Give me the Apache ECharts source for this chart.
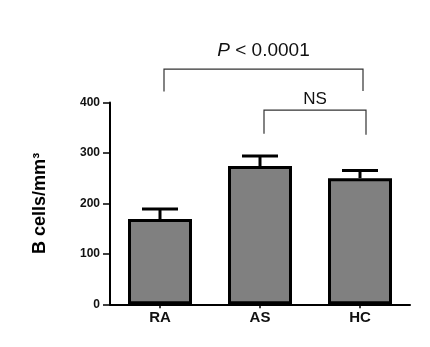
<!DOCTYPE html>
<html>
<head>
<meta charset="utf-8">
<script src="https://cdn.jsdelivr.net/npm/echarts@6/dist/echarts.min.js"></script>
<style>
  html, body { margin: 0; padding: 0; background: #fff; }
  #box { width: 430px; height: 347px; }
</style>
</head>
<body>
<div id="box"></div>
<script>
var categories = ['RA', 'AS', 'HC'];
var means = [169, 274, 250];
var errTops = [189, 294, 265];
var yTicks = [0, 100, 200, 300, 400];
// significance brackets: [fromIndex, toIndex, topValue, leftFoot, rightFoot, label]
var brackets = [
    [0, 2, 466, 422, 423, 'P'],
    [1, 2, 385, 338, 336, 'NS']
];

window.onload = function () {
    var myChart = echarts.init(document.getElementById('box'));
    var font = '"Liberation Sans", Arial, sans-serif';

    var option = {
        animation: false,
        grid: { left: 110, right: 20, top: 102.5, bottom: 42.7 },
        xAxis: {
            type: 'category',
            data: categories,
            axisLine: { lineStyle: { color: '#000', width: 2 } },
            axisTick: { show: true, alignWithLabel: true, length: 4, lineStyle: { color: '#000', width: 1.5 } },
            axisLabel: { color: '#111', fontWeight: 'bold', fontSize: 15, fontFamily: font, margin: 6 }
        },
        yAxis: {
            type: 'value',
            min: yTicks[0],
            max: yTicks[yTicks.length - 1],
            interval: 100,
            splitLine: { show: false },
            axisLine: { show: true, lineStyle: { color: '#000', width: 2 } },
            axisTick: { show: true, length: 7, lineStyle: { color: '#000', width: 1.5 } },
            axisLabel: { color: '#111', fontWeight: 'bold', fontSize: 12, fontFamily: font, margin: 10 },
            name: 'B cells/mm\u00b3',
            nameLocation: 'middle',
            nameGap: 61,
            nameTextStyle: { color: '#000', fontWeight: 'bold', fontSize: 18, fontFamily: font }
        },
        series: [{
            type: 'bar',
            data: means,
            barWidth: 64,
            itemStyle: { color: '#808080', borderColor: '#000', borderWidth: 3 },
            z: 2
        }, {
            // upward error bars
            type: 'custom',
            z: 3,
            data: errTops.map(function (t, i) { return [i, means[i], t]; }),
            renderItem: function (params, api) {
                var base = api.coord([api.value(0), api.value(1)]);
                var top = api.coord([api.value(0), api.value(2)]);
                var half = 18;
                return {
                    type: 'group',
                    children: [{
                        type: 'line',
                        shape: { x1: base[0], y1: base[1], x2: top[0], y2: top[1] },
                        style: { stroke: '#000', lineWidth: 3 }
                    }, {
                        type: 'line',
                        shape: { x1: top[0] - half, y1: top[1], x2: top[0] + half, y2: top[1] },
                        style: { stroke: '#000', lineWidth: 3 }
                    }]
                };
            }
        }, {
            // significance brackets
            type: 'custom',
            clip: false,
            z: 4,
            data: brackets,
            renderItem: function (params, api) {
                var b = brackets[params.dataIndex];
                var l = api.coord([b[0], b[2]]);
                var r = api.coord([b[1], b[2]]);
                var lf = api.coord([b[0], b[3]]);
                var rf = api.coord([b[1], b[4]]);
                var x1 = l[0] + 4, x2 = r[0] + (b[5] === 'NS' ? 6 : 3);
                var cx = (x1 + x2) / 2;
                var children = [
                    { type: 'polyline', shape: { points: [[x1, lf[1]], [x1, l[1]], [x2, r[1]], [x2, rf[1]]] }, style: { stroke: '#333', lineWidth: 1.2, fill: null } }
                ];
                if (b[5] === 'P') {
                    children.push({
                        type: 'text',
                        style: {
                            x: cx, y: l[1] - 9,
                            text: '{i|P}{n| < 0.0001}',
                            align: 'center', verticalAlign: 'bottom',
                            rich: {
                                i: { fontStyle: 'italic', fontSize: 19, fontFamily: font, fill: '#111' },
                                n: { fontSize: 19, fontFamily: font, fill: '#111' }
                            }
                        }
                    });
                } else {
                    children.push({
                        type: 'text',
                        style: {
                            x: cx, y: l[1] - 2,
                            text: b[5],
                            fontSize: 17, fontFamily: font, fill: '#111',
                            align: 'center', verticalAlign: 'bottom'
                        }
                    });
                }
                return { type: 'group', children: children };
            }
        }]
    };
    myChart.setOption(option);
};
</script>
</body>
</html>
